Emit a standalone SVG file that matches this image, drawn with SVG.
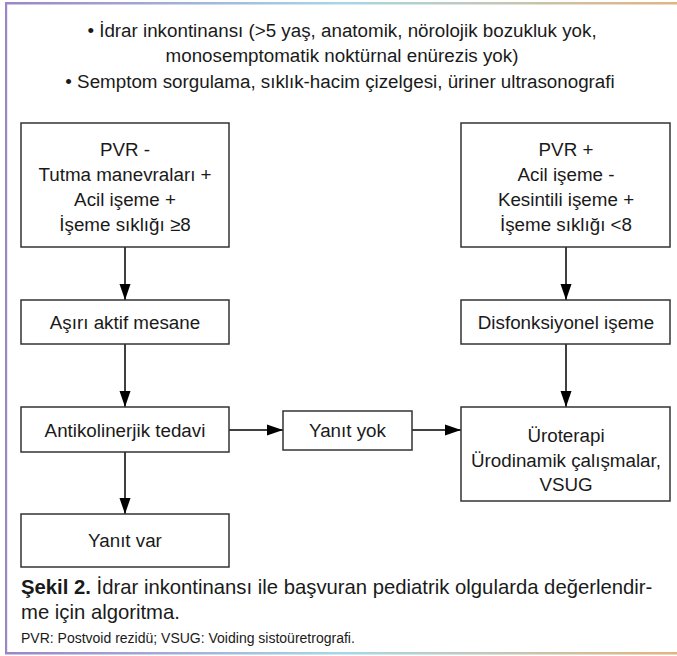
<svg xmlns="http://www.w3.org/2000/svg" width="677" height="656" viewBox="0 0 677 656">
<defs>
<linearGradient id="bar" x1="0" y1="0" x2="1" y2="0">
<stop offset="0" stop-color="#9b86c8"/>
<stop offset="0.5" stop-color="#a7d7e6"/>
<stop offset="1" stop-color="#e2b47e"/>
</linearGradient>
<marker id="ah" markerUnits="userSpaceOnUse" markerWidth="16" markerHeight="12" refX="16" refY="6" orient="auto">
<path d="M0,0.5 L16,6 L0,11.5 z" fill="#000"/>
</marker>
<style>
.box{fill:#fff;stroke:#333;stroke-width:1.5}
.t{font-family:"Liberation Sans",Arial,sans-serif;font-size:18.8px;fill:#1a1a1a;text-anchor:middle}
.c{font-family:"Liberation Sans",Arial,sans-serif;font-size:20.3px;fill:#1a1a1a}
.f{font-family:"Liberation Sans",Arial,sans-serif;font-size:14px;fill:#1a1a1a}
.ln{stroke:#000;stroke-width:1.5;fill:none;marker-end:url(#ah)}
</style>
</defs>
<rect width="677" height="656" fill="#fff"/>
<rect x="5" y="2" width="672" height="2.5" fill="url(#bar)"/>
<rect x="5" y="652" width="672" height="2.5" fill="url(#bar)"/>
<rect x="5" y="2" width="2.2" height="652" fill="#9b86c8"/>
<g id="intro">
<text class="t" x="342" y="37">• İdrar inkontinansı (&gt;5 yaş, anatomik, nörolojik bozukluk yok,</text>
<text class="t" x="342" y="62">monosemptomatik noktürnal enürezis yok)</text>
<text class="t" x="340" y="88">• Semptom sorgulama, sıklık-hacim çizelgesi, üriner ultrasonografi</text>
</g>
<g id="connectors">
<path class="ln" d="M125,247 V300"/>
<path class="ln" d="M566,247 V300"/>
<path class="ln" d="M125,344 V407"/>
<path class="ln" d="M566,344 V407"/>
<path class="ln" d="M229,430 H283"/>
<path class="ln" d="M412,430 H461"/>
<path class="ln" d="M125,452 V514"/>
</g>
<g id="n1">
<rect class="box" x="21" y="123" width="208" height="124"/>
<text class="t" x="125" y="156">PVR -</text>
<text class="t" x="125" y="181">Tutma manevraları +</text>
<text class="t" x="125" y="206">Acil işeme +</text>
<text class="t" x="125" y="231">İşeme sıklığı ≥8</text>
</g>
<g id="n2">
<rect class="box" x="461" y="123" width="209" height="124"/>
<text class="t" x="566" y="156">PVR +</text>
<text class="t" x="566" y="181">Acil işeme -</text>
<text class="t" x="566" y="206">Kesintili işeme +</text>
<text class="t" x="566" y="231">İşeme sıklığı &lt;8</text>
</g>
<g id="n3">
<rect class="box" x="21" y="300" width="208" height="44"/>
<text class="t" x="125" y="329">Aşırı aktif mesane</text>
</g>
<g id="n4">
<rect class="box" x="461" y="300" width="209" height="44"/>
<text class="t" x="566" y="329">Disfonksiyonel işeme</text>
</g>
<g id="n5">
<rect class="box" x="21" y="407" width="208" height="45"/>
<text class="t" x="125" y="437">Antikolinerjik tedavi</text>
</g>
<g id="n6">
<rect class="box" x="283" y="411" width="129" height="39"/>
<text class="t" x="347.5" y="437">Yanıt yok</text>
</g>
<g id="n7">
<rect class="box" x="461" y="407" width="209" height="94"/>
<text class="t" x="566" y="442">Üroterapi</text>
<text class="t" x="566" y="467">Ürodinamik çalışmalar,</text>
<text class="t" x="566" y="491">VSUG</text>
</g>
<g id="n8">
<rect class="box" x="21" y="514" width="208" height="53"/>
<text class="t" x="125" y="547">Yanıt var</text>
</g>
<g id="caption">
<text class="c" x="21" y="594"><tspan font-weight="bold">Şekil 2.</tspan> İdrar inkontinansı ile başvuran pediatrik olgularda değerlendir-</text>
<text class="c" x="21" y="619">me için algoritma.</text>
<text class="f" x="21" y="643">PVR: Postvoid rezidü; VSUG: Voiding sistoüretrografi.</text>
</g>
</svg>
